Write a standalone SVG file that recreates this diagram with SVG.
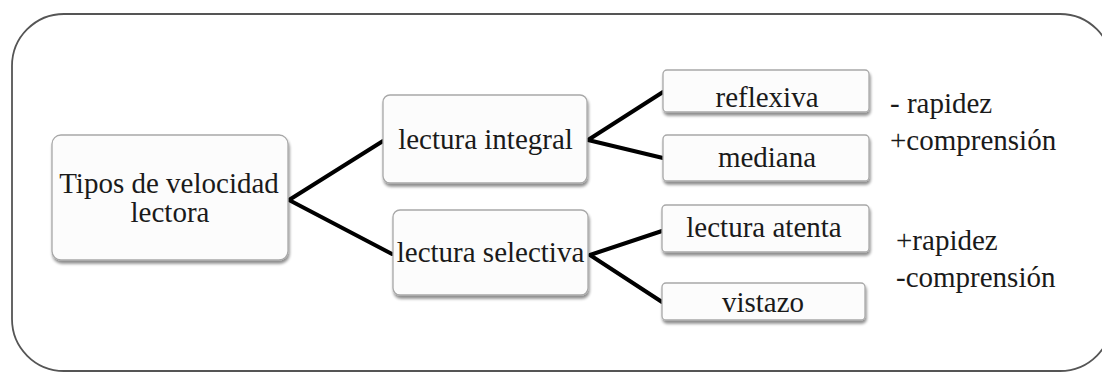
<svg xmlns="http://www.w3.org/2000/svg" width="1102" height="372" viewBox="0 0 1102 372">
  <style>
    .frame { fill: #ffffff; stroke: #555555; stroke-width: 1.8; }
    .box { fill: #fcfcfc; stroke: #a8a8a8; stroke-width: 1.3; filter: url(#shadow); }
    .t { font-size: 29px; fill: #1a1a1a; }
    .c { text-anchor: middle; }
    .conn { stroke: #000000; stroke-width: 4; fill: none; stroke-linecap: round; }
  </style>
  <defs>
    <filter id="shadow" x="-10%" y="-20%" width="120%" height="150%">
      <feGaussianBlur in="SourceAlpha" stdDeviation="1.5"/>
      <feOffset dx="1" dy="3" result="b"/>
      <feComponentTransfer><feFuncA type="linear" slope="0.45"/></feComponentTransfer>
      <feMerge><feMergeNode/><feMergeNode in="SourceGraphic"/></feMerge>
    </filter>
  </defs>
  <rect x="0" y="0" width="1102" height="372" fill="#ffffff"/>
  <rect class="frame" x="12" y="14" width="1100" height="357" rx="52" ry="52"/>

  <g id="connectors">
    <line class="conn" x1="289" y1="200" x2="383" y2="141"/>
    <line class="conn" x1="289" y1="200" x2="392" y2="254"/>
    <line class="conn" x1="588" y1="140" x2="663" y2="92"/>
    <line class="conn" x1="588" y1="140" x2="663" y2="158"/>
    <line class="conn" x1="590" y1="255" x2="662" y2="231"/>
    <line class="conn" x1="590" y1="255" x2="662" y2="302"/>
  </g>

  <g font-family="Liberation Serif, DejaVu Serif, serif">
  <g id="root">
    <rect class="box" x="52" y="135" width="236" height="125" rx="9"/>
    <text class="t c" x="169" y="193">Tipos de velocidad</text>
    <text class="t c" x="170" y="222">lectora</text>
  </g>
  <g id="integral">
    <rect class="box" x="383" y="95" width="204" height="88" rx="7"/>
    <text class="t c" x="485.5" y="149">lectura integral</text>
  </g>
  <g id="selectiva">
    <rect class="box" x="393" y="210" width="195" height="85" rx="7"/>
    <text class="t c" x="490.5" y="262">lectura selectiva</text>
  </g>
  <g id="reflexiva">
    <rect class="box" x="663" y="70" width="206" height="42" rx="4"/>
    <text class="t c" x="767" y="107">reflexiva</text>
  </g>
  <g id="mediana">
    <rect class="box" x="663" y="135" width="206" height="46" rx="4"/>
    <text class="t c" x="767" y="167">mediana</text>
  </g>
  <g id="atenta">
    <rect class="box" x="662" y="205" width="207" height="47" rx="4"/>
    <text class="t c" x="764" y="237">lectura atenta</text>
  </g>
  <g id="vistazo">
    <rect class="box" x="662" y="283" width="203" height="37" rx="4"/>
    <text class="t c" x="763" y="312">vistazo</text>
  </g>
  <g id="notes">
    <text class="t" x="890" y="113">- rapidez</text>
    <text class="t" x="890" y="150">+comprensión</text>
    <text class="t" x="896" y="250">+rapidez</text>
    <text class="t" x="896" y="287">-comprensión</text>
  </g>
  </g>
</svg>
